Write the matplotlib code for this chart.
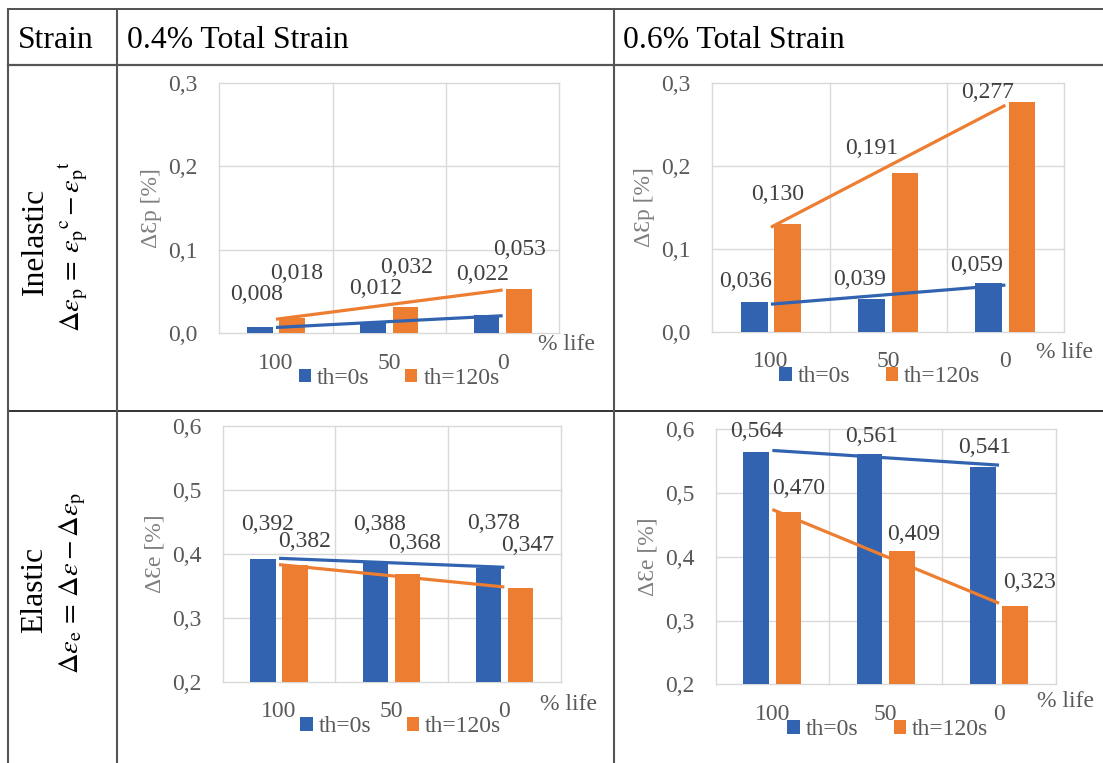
import numpy as np
import matplotlib
matplotlib.use("Agg")
import matplotlib.pyplot as plt
from matplotlib.lines import Line2D
from matplotlib.patches import Patch

plt.rcParams['font.family'] = ['Liberation Serif', 'DejaVu Serif']
plt.rcParams['mathtext.fontset'] = 'stix'

# ---------------- data ----------------
life_labels = ["100", "50", "0"]
series_names = ["th=0s", "th=120s"]

inel_04_th0 = [0.008, 0.012, 0.022]
inel_04_th120 = [0.018, 0.032, 0.053]
inel_06_th0 = [0.036, 0.039, 0.059]
inel_06_th120 = [0.130, 0.191, 0.277]

el_04_th0 = [0.392, 0.388, 0.378]
el_04_th120 = [0.382, 0.368, 0.347]
el_06_th0 = [0.564, 0.561, 0.541]
el_06_th120 = [0.470, 0.409, 0.323]

col_headers = ["Strain", "0.4% Total Strain", "0.6% Total Strain"]
row_names = ["Inelastic", "Elastic"]
row_formulas = [r"$\Delta\varepsilon_{\mathrm{p}}\,{=}\,{\varepsilon_{\mathrm{p}}}^{\mathrm{c}}\,{-}\,{\varepsilon_{\mathrm{p}}}^{\mathrm{t}}$",
                r"$\Delta\varepsilon_{\mathrm{e}}\,{=}\,\Delta\varepsilon\,{-}\,\Delta\varepsilon_{\mathrm{p}}$"]
ylabels = ["\u0394\u0190p [%]", "\u0394\u0190e [%]"]

# ---------------- styling ----------------
W, H = 1103, 763
BLUE = "#3163B0"
ORANGE = "#ED7D31"
GRID = "#D9D9D9"
TICK_C = "#595959"
LABEL_C = "#404040"
TITLE_C = "#7F7F7F"
FS = 17
HFS = 22.8
FFS = 20.5

fig = plt.figure(figsize=(W / 100, H / 100), dpi=100)


def rect(l, t, r, b):
    return [l / W, 1 - b / H, (r - l) / W, (b - t) / H]


def fx(x):
    return x / W


def fy(y):
    return 1 - y / H


# table grid
line_kw = dict(transform=fig.transFigure, clip_on=False)
fig.add_artist(Line2D([fx(8), 1], [fy(9), fy(9)], color="#333333", lw=1.2, **line_kw))
fig.add_artist(Line2D([fx(8), 1], [fy(64.5), fy(64.5)], color="#555555", lw=1.6, **line_kw))
fig.add_artist(Line2D([fx(8), 1], [fy(411), fy(411)], color="#222222", lw=1.3, **line_kw))
for xv in (8, 116.7, 613.5):
    fig.add_artist(Line2D([fx(xv), fx(xv)], [fy(9), 0], color="#555555", lw=1.5, **line_kw))

# header row
for txt, xl in zip(col_headers, (18, 127, 623)):
    fig.text(fx(xl), fy(48.5), txt, fontsize=HFS, color="black", ha="left", va="baseline")

# row headers
for name, formula, yc, yf in zip(row_names, row_formulas, (241, 590), (246, 583)):
    fig.text(fx(35), fy(yc), name, fontsize=HFS, rotation=90, ha="center", va="center")
    fig.text(fx(73), fy(yf), formula, fontsize=FFS, rotation=90, ha="center", va="center")

# panel definitions: plot-area box, limits, series, label offsets, legend/axis-title placement
panels = [
    dict(box=(219.3, 82.7, 559.3, 333.3), ylim=(0.0, 0.3), a=inel_04_th0, b=inel_04_th120, ylab=ylabels[0],
         off_a=[(-3, 32), (2, 35), (-4, 40)], off_b=[(5, 45), (1, 39), (1, 40)],
         life=(7.4, 11.7), leg=(10, 45)),
    dict(box=(712.3, 82.7, 1064, 331.7), ylim=(0.0, 0.3), a=inel_06_th0, b=inel_06_th120, ylab=ylabels[0],
         off_a=[(-9, 20), (-12, 20), (-12, 17)], off_b=[(-10, 29), (-33, 25), (-34, 9)],
         life=(1, 21.3), leg=(-8.5, 45)),
    dict(box=(222.7, 426, 560.7, 681.7), ylim=(0.2, 0.6), a=el_04_th0, b=el_04_th120, ylab=ylabels[1],
         off_a=[(5, 34), (4, 37), (5, 44)], off_b=[(10, 24), (7, 31), (7, 42)],
         life=(7.6, 22.3), leg=(9, 45)),
    dict(box=(715.7, 429.3, 1055.7, 684.3), ylim=(0.2, 0.6), a=el_06_th0, b=el_06_th120, ylab=ylabels[1],
         off_a=[(0, 21), (2, 18), (2, 19)], off_b=[(10, 24), (12, 17), (14, 23)],
         life=(10, 17.4), leg=(2, 45.5)),
]

bw = 0.226
shift = (bw + 0.058) / 2
x = np.arange(len(life_labels))


def fmt(v):
    return f"{v:.3f}".replace(".", ",")


for p in panels:
    l, t, r, b = p["box"]
    ax = fig.add_axes(rect(l, t, r, b))
    ax_w, ax_h = r - l, b - t
    y0, y1 = p["ylim"]
    ax.set_xlim(-0.5, len(x) - 0.5)
    ax.set_ylim(y0, y1)
    for s in ax.spines.values():
        s.set_visible(False)

    yt = np.round(np.arange(y0, y1 + 1e-9, 0.1), 1)
    for yv in yt:
        ax.axhline(yv, color=GRID, lw=1.0, zorder=0, clip_on=False)
    for xv in np.arange(-0.5, len(x), 1.0):
        ax.axvline(xv, color=GRID, lw=1.0, zorder=0, clip_on=False)

    ax.set_yticks(yt)
    ax.set_yticklabels([f"{v:.1f}".replace(".", ",") for v in yt])
    ax.tick_params(axis="y", length=0, pad=15.5, labelsize=FS, labelcolor=TICK_C)
    ax.set_xticks(x)
    ax.set_xticklabels(life_labels)
    ax.tick_params(axis="x", length=0, pad=14, labelsize=FS, labelcolor=TICK_C)

    ax.bar(x - shift, p["a"], width=bw, color=BLUE, zorder=2)
    ax.bar(x + shift, p["b"], width=bw, color=ORANGE, zorder=2)

    # linear trend lines through each series
    for vals, col in ((p["a"], BLUE), (p["b"], ORANGE)):
        k, c0 = np.polyfit(x, vals, 1)
        xs = np.array([x[0], x[-1]])
        ax.plot(xs, k * xs + c0, color=col, lw=2.3, zorder=3, solid_capstyle="butt")

    # value labels
    for vals, xpos, offs in ((p["a"], x - shift, p["off_a"]), (p["b"], x + shift, p["off_b"])):
        for v, xp, (dx, dy) in zip(vals, xpos, offs):
            ax.annotate(fmt(v), xy=(xp, v), xytext=(dx, dy), textcoords="offset pixels",
                        ha="center", va="center", fontsize=FS, color=LABEL_C, zorder=4,
                        annotation_clip=False)

    # axis title
    ax.text(-68 / ax_w, 0.5, p["ylab"], transform=ax.transAxes, rotation=90,
            ha="center", va="center", fontsize=FS, color=TITLE_C)

    # category axis title
    lx, ly = p["life"]
    ax.text(1 + lx / ax_w, -ly / ax_h, "% life", transform=ax.transAxes,
            ha="center", va="center", fontsize=FS, color=TICK_C)

    # legend
    gx, gy = p["leg"]
    handles = [Patch(facecolor=BLUE, edgecolor="none"), Patch(facecolor=ORANGE, edgecolor="none")]
    ax.legend(handles, series_names, loc="center", ncol=2, frameon=False,
              bbox_to_anchor=(0.5 + gx / ax_w, -gy / ax_h), bbox_transform=ax.transAxes,
              fontsize=FS, labelcolor=TICK_C, handlelength=0.52, handleheight=0.52,
              handletextpad=0.25, columnspacing=1.5, borderpad=0, borderaxespad=0)

fig.savefig("out.png", dpi=100)
